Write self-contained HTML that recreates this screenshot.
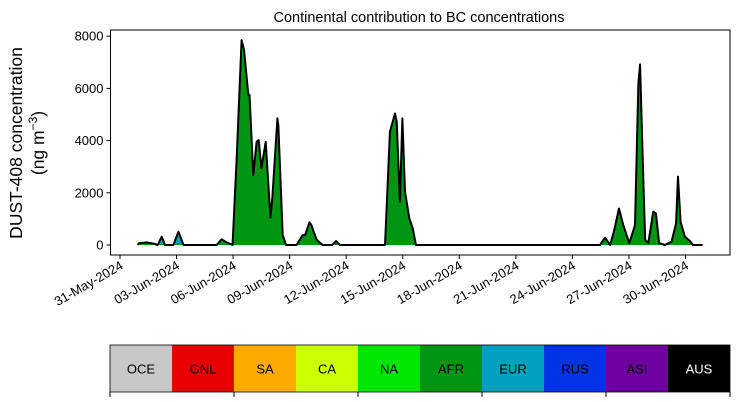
<!DOCTYPE html>
<html><head><meta charset="utf-8"><style>
body{margin:0;background:#fff;}
svg{display:block;font-family:"Liberation Sans","DejaVu Sans",sans-serif;}
</style></head><body>
<svg id="c" width="739" height="402" xmlns="http://www.w3.org/2000/svg">
<text x="419" y="22" text-anchor="middle" font-size="14.5">Continental contribution to BC concentrations</text>
<g transform="translate(22,143) rotate(-90)">
<text x="0" y="0" text-anchor="middle" font-size="17.5">DUST-408 concentration</text>
<text x="0" y="22" text-anchor="middle" font-size="17.5">(ng m<tspan dy="-7" font-size="12">−3</tspan><tspan dy="7">)</tspan></text>
</g>
<g id="plot"></g>
<g id="cbar"></g>
</svg>
<script>
const days=[0.94,1.0,1.42,1.8,2.0,2.21,2.39,2.83,3.1,3.37,5.13,5.39,5.66,5.97,6.19,6.45,6.58,6.81,6.87,7.07,7.25,7.36,7.5,7.73,7.98,8.08,8.35,8.4,8.63,8.81,9.37,9.69,9.82,10.05,10.15,10.43,10.75,11.26,11.46,11.67,14.06,14.32,14.59,14.68,14.85,14.98,15.12,15.35,15.53,15.7,24.2,25.46,25.73,26.0,26.2,26.47,26.7,27.02,27.32,27.5,27.59,27.73,27.86,28.03,28.29,28.43,28.6,28.9,29.26,29.5,29.6,29.74,29.97,30.24,30.4,30.91];
const afrValues=[0,65,100,50,0,60,0,0,100,0,0,217,100,0,3320,7850,7470,5750,5750,2680,3960,4020,2940,3950,1050,1790,4850,4600,380,0,0,380,380,870,770,200,0,0,150,0,0,4340,5040,4720,1660,4850,2040,1020,640,0,0,0,280,0,510,1400,760,70,760,6190,6920,3320,200,80,1280,1210,80,0,130,830,2620,880,320,150,0,0];
const eurValues=[0,0,0,0,0,260,0,0,410,0,0,0,0,0,0,0,0,0,0,0,0,0,0,0,0,0,0,0,0,0,0,0,0,0,0,0,0,0,0,0,0,0,0,0,0,0,0,0,0,0,0,0,0,0,0,0,0,0,0,0,0,0,0,0,0,0,0,0,0,0,0,0,0,0,0,0];
const yTicks=[0,2000,4000,6000,8000];
const xTickDays=[0,3,6,9,12,15,18,21,24,27,30];
const xTickLabels=["31-May-2024","03-Jun-2024","06-Jun-2024","09-Jun-2024","12-Jun-2024","15-Jun-2024","18-Jun-2024","21-Jun-2024","24-Jun-2024","27-Jun-2024","30-Jun-2024"];
const regions=["OCE","GNL","SA","CA","NA","AFR","EUR","RUS","ASI","AUS"];
const regionColors=["#c8c8c8","#e60000","#ffaa00","#ccff00","#00e600","#009614","#00a0be","#0032e6","#6e00a0","#000000"];

const NS="http://www.w3.org/2000/svg";
const L=110.5,R=730,T=30,B=255;
const X=d=>120+18.85*d;
const Y=v=>245-v*0.0261;
function mk(tag,attrs,parent){const e=document.createElementNS(NS,tag);for(const k in attrs)e.setAttribute(k,attrs[k]);parent.appendChild(e);return e;}
const P=document.getElementById('plot');
// areas
let afrPts=days.map((d,i)=>X(d)+','+Y(afrValues[i]));
let afrPath='M'+X(days[0])+','+Y(0)+' L'+afrPts.join(' L')+' L'+X(days[days.length-1])+','+Y(0)+'Z';
const a1=mk('path',{d:afrPath,fill:'#009614'},P);


let totPts=days.map((d,i)=>X(d)+','+Y(afrValues[i]+eurValues[i]));
let eurPath='M'+afrPts.join(' L')+' L'+totPts.slice().reverse().join(' L')+'Z';
const a2=mk('path',{d:eurPath,fill:'#00a0be'},P);


const ln=mk('polyline',{points:totPts.join(' '),fill:'none',stroke:'#000',"stroke-width":2,"stroke-linejoin":"round"},P);


// axes frame
const fr=mk('rect',{x:L,y:T,width:R-L,height:B-T,fill:'none',stroke:'#000',"stroke-width":1},P);


yTicks.forEach(v=>{
  const t=mk('line',{x1:L,x2:L-4,y1:Y(v),y2:Y(v),stroke:'#000'},P);
  
  
  const tx=mk('text',{x:L-7,y:Y(v)+4.5,"text-anchor":"end","font-size":13},P);
  tx.textContent=v;
  
  
});
xTickDays.forEach((d,i)=>{
  const x=X(d);
  const t=mk('line',{x1:x,x2:x,y1:B,y2:B+4,stroke:'#000'},P);
  
  
  const tx=mk('text',{x:0,y:0,"text-anchor":"end","font-size":13,transform:`translate(${x+4},${B+13}) rotate(-30)`},P);
  tx.textContent=xTickLabels[i];
  
  
});
// colorbar
const C=document.getElementById('cbar');
const cw=62,cx0=110,cy=345,ch=47;
regions.forEach((r,i)=>{
  const rc=mk('rect',{x:cx0+i*cw,y:cy,width:cw,height:ch,fill:regionColors[i]},C);
  
  
  const tx=mk('text',{x:cx0+i*cw+cw/2,y:cy+ch/2+5,"text-anchor":"middle","font-size":13,fill:r==='AUS'?'#fff':'#000'},C);
  tx.textContent=r;
  
  
});
const cf=mk('rect',{x:cx0,y:cy,width:cw*10,height:ch,fill:'none',stroke:'#000',"stroke-width":0.8},C);


for(let k=0;k<=5;k++){
  const t=mk('line',{x1:cx0+k*124,x2:cx0+k*124,y1:cy+ch,y2:cy+ch+5,stroke:'#000'},C);
  
  
}
</script>
</body></html>
